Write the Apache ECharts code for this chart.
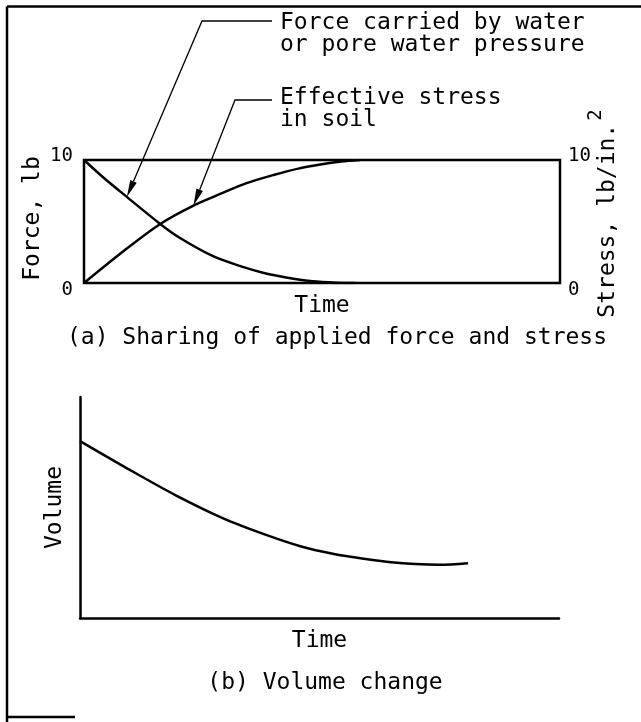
<!DOCTYPE html>
<html>
<head>
<meta charset="utf-8">
<script src="https://cdn.jsdelivr.net/npm/echarts@6.0.0/dist/echarts.min.js"></script>
<style>
  html, body { margin: 0; padding: 0; background: #fff; }
  #chart { width: 641px; height: 722px; }
</style>
</head>
<body>
<div id="chart"></div>
<script>
// (a) reparto de la carga: agua de poros vs. esfuerzo efectivo (eje tiempo 0-100)
const waterTime  = [0, 4, 9, 16, 20, 27, 33, 38, 44, 48, 53, 57];
const waterForce = [10, 8.6, 7.0, 4.8, 3.7, 2.2, 1.35, 0.8, 0.35, 0.14, 0.03, 0];
const stressTime = [0, 8, 16, 23, 29, 34, 40, 45, 50, 54, 58];
const effStress  = [0, 2.5, 4.8, 6.3, 7.3, 8.1, 8.8, 9.3, 9.65, 9.88, 10];
const forceTicks = [0, 10];

// (b) cambio de volumen
const volTime = [0, 10, 20, 30, 39, 46, 53, 60, 65, 70, 75, 81];
const volume  = [80, 67.5, 55.5, 45, 37.5, 32.5, 29, 26.6, 25.2, 24.4, 24.1, 24.8];

const notes = [
  ['Force carried by water', 'or pore water pressure'],
  ['Effective stress', 'in soil']
];
const captions = ['(a) Sharing of applied force and stress', '(b) Volume change'];

const FONT = 'DejaVu Sans Mono';
const INK = '#000';
const FS = 23;

function pairs(xs, ys) { return xs.map((x, i) => [x, ys[i]]); }

const txt = (size) => ({ color: INK, fontFamily: FONT, fontSize: size });
const hidden = { axisLine: { show: false }, axisTick: { show: false }, axisLabel: { show: false }, splitLine: { show: false } };

const edgeLabel = {
  ...txt(19),
  formatter: (v) => (v === forceTicks[1] ? '{hi|' + v + '}' : '{lo|' + v + '}'),
  rich: {
    hi: { ...txt(19), padding: [0, 0, 8, 0] },
    lo: { ...txt(19), padding: [14, 0, 0, 0] }
  }
};

const chart = echarts.init(document.getElementById('chart'), null, { renderer: 'canvas' });

chart.setOption({
  animation: false,
  backgroundColor: '#fff',
  grid: [
    { left: 84, top: 160, width: 476, height: 123, show: true, borderColor: INK, borderWidth: 2.5 },
    { left: 80, top: 397, width: 479, height: 221 }
  ],
  xAxis: [
    { gridIndex: 0, type: 'value', min: 0, max: 100, ...hidden,
      name: 'Time', nameLocation: 'middle', nameGap: 12, nameTextStyle: txt(FS) },
    { gridIndex: 1, type: 'value', min: 0, max: 100, ...hidden,
      axisLine: { show: true, onZero: false, lineStyle: { color: INK, width: 2.5 } },
      name: 'Time', nameLocation: 'middle', nameGap: 12, nameTextStyle: txt(FS) }
  ],
  yAxis: [
    { gridIndex: 0, type: 'value', min: 0, max: 10, interval: 10, position: 'left',
      axisLine: { show: false }, axisTick: { show: false }, splitLine: { show: false },
      axisLabel: { ...edgeLabel, margin: 11 },
      name: 'Force, lb', nameLocation: 'middle', nameRotate: 90, nameGap: 39, nameMoveOverlap: false,
      nameTextStyle: { ...txt(FS), padding: [0, 0, 0, 6] } },
    { gridIndex: 0, type: 'value', min: 0, max: 10, interval: 10, position: 'right',
      axisLine: { show: false }, axisTick: { show: false }, splitLine: { show: false },
      axisLabel: { ...edgeLabel, margin: 8 },
      name: '{m|Stress, lb/in.}{s|2}', nameLocation: 'middle', nameRotate: 90, nameGap: 27, nameMoveOverlap: false,
      nameTextStyle: { ...txt(FS), padding: [0, 0, 0, 16], rich: {
        m: { ...txt(FS), verticalAlign: 'bottom' },
        s: { ...txt(19), verticalAlign: 'bottom', padding: [0, 0, 14, 3] }
      } } },
    { gridIndex: 1, type: 'value', min: 0, max: 100, ...hidden,
      axisLine: { show: true, onZero: false, lineStyle: { color: INK, width: 2.5 } },
      name: 'Volume', nameLocation: 'middle', nameRotate: 90, nameGap: 13, nameTextStyle: txt(FS) }
  ],
  series: [
    { name: 'Pore water', type: 'line', xAxisIndex: 0, yAxisIndex: 0, data: pairs(waterTime, waterForce),
      smooth: 0.3, showSymbol: false, lineStyle: { color: INK, width: 2.5 } },
    { name: 'Effective stress', type: 'line', xAxisIndex: 0, yAxisIndex: 0, data: pairs(stressTime, effStress),
      smooth: 0.3, showSymbol: false, lineStyle: { color: INK, width: 2.5 } },
    { name: 'Volume', type: 'line', xAxisIndex: 1, yAxisIndex: 2, data: pairs(volTime, volume),
      smooth: 0.3, showSymbol: false, lineStyle: { color: INK, width: 2.5 } }
  ]
});

// flechas de las notas: la punta sale de un punto de la propia curva
function arrow(elbowX, textY, startX, tip) {
  const dx = tip[0] - elbowX, dy = tip[1] - textY;
  const len = Math.hypot(dx, dy), ux = dx / len, uy = dy / len;
  const bx = tip[0] - ux * 17, by = tip[1] - uy * 17;
  const px = -uy * 3.5, py = ux * 3.5;
  return [
    { type: 'polyline', shape: { points: [[startX, textY], [elbowX, textY], [bx, by]] },
      style: { stroke: INK, lineWidth: 1.3, fill: null } },
    { type: 'polygon', shape: { points: [tip, [bx + px, by + py], [bx - px, by - py]] },
      style: { fill: INK } }
  ];
}

const tipWater = chart.convertToPixel({ seriesIndex: 0 }, [waterTime[2], waterForce[2]]);
const tipStress = chart.convertToPixel({ seriesIndex: 1 }, [stressTime[3], effStress[3]]);

const noteText = (s, y) => ({ type: 'text', x: 280, y,
  style: { text: s, fill: INK, fontFamily: FONT, fontSize: FS, verticalAlign: 'middle' } });
const capText = (s, x, y) => ({ type: 'text', x, y,
  style: { text: s, fill: INK, fontFamily: FONT, fontSize: FS, align: 'center', verticalAlign: 'middle' } });
const rule = (x1, y1, x2, y2) => ({ type: 'line', shape: { x1, y1, x2, y2 },
  style: { stroke: INK, lineWidth: 2.5 } });

chart.setOption({
  graphic: [
    rule(7, 6.5, 641, 6.5),
    rule(7, 6.5, 7, 722),
    rule(7, 717, 75, 717),
    ...arrow(202, 21, 272, tipWater),
    ...arrow(235, 100, 272, tipStress),
    noteText(notes[0][0], 23),
    noteText(notes[0][1], 45),
    noteText(notes[1][0], 98),
    noteText(notes[1][1], 120),
    capText(captions[0], 337, 338),
    capText(captions[1], 325, 683)
  ]
});
</script>
</body>
</html>
